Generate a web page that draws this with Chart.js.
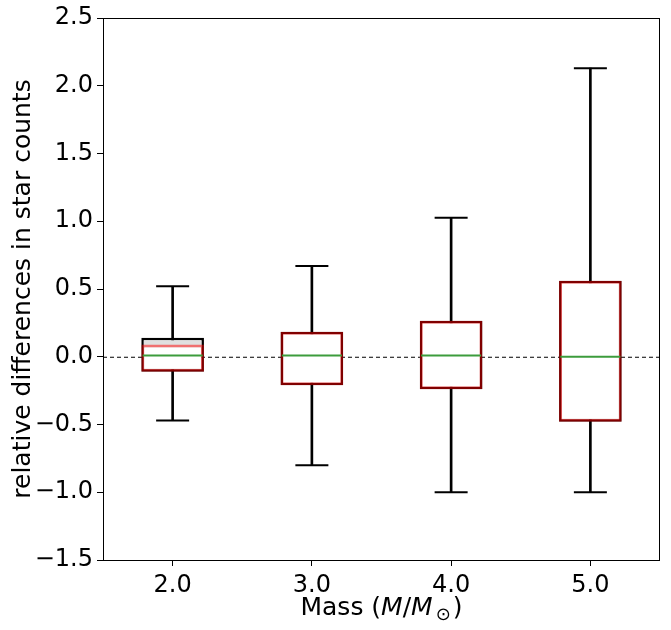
<!DOCTYPE html>
<html>
<head>
<meta charset="utf-8">
<script src="https://cdn.jsdelivr.net/npm/chart.js@4/dist/chart.umd.min.js"></script>
<style>
  body { margin: 0; background: #fff; }
</style>
</head>
<body>
<canvas id="myChart" width="671" height="630"></canvas>
<script>
// values
var masses = ['2.0', '3.0', '4.0', '5.0']
var whiskerLow = [-0.47, -0.80, -1.00, -1.00]
var whiskerHigh = [0.52, 0.67, 1.025, 2.13]
var blackQ1 = [-0.11, -0.21, -0.24, -0.48]
var blackQ3 = [0.14, 0.185, 0.265, 0.56]
var redQ1 = [-0.11, -0.21, -0.24, -0.48]
var redQ3 = [0.09, 0.185, 0.265, 0.56]
var medians = [0.01, 0.01, 0.01, 0.0]
var yTicks = [-1.5, -1.0, -0.5, 0.0, 0.5, 1.0, 1.5, 2.0, 2.5]

const ctx = document.getElementById('myChart')
const FONT = '"DejaVu Sans", sans-serif'

function pairs(a, b) {
  var out = []
  for (var i = 0; i < a.length; i++) out.push([a[i], b[i]])
  return out
}

// frame, dashed zero line and the two axis titles
const extras = {
  id: 'extras',
  beforeDatasetsDraw(chart) {
    const c = chart.ctx, a = chart.chartArea
    const y0 = chart.scales.y.getPixelForValue(0)
    c.save()
    c.strokeStyle = '#000'
    c.lineWidth = 1
    c.setLineDash([4, 3])
    c.beginPath()
    c.moveTo(a.left, y0 + 0.5)
    c.lineTo(a.right, y0 + 0.5)
    c.stroke()
    c.restore()
  },
  afterDraw(chart) {
    const c = chart.ctx, a = chart.chartArea
    c.save()
    c.strokeStyle = '#000'
    c.lineWidth = 1
    c.strokeRect(a.left + 0.5, a.top + 0.5, a.right - a.left - 1, a.bottom - a.top)

    // y title
    c.fillStyle = '#000'
    c.font = '25px ' + FONT
    c.textAlign = 'center'
    c.textBaseline = 'middle'
    c.translate(23, (a.top + a.bottom) / 2)
    c.rotate(-Math.PI / 2)
    c.fillText('relative differences in star counts', 0, 0)
    c.restore()

    // x title: Mass (M/M_sun) with italic M and subscript
    c.save()
    c.fillStyle = '#000'
    c.textBaseline = 'alphabetic'
    c.textAlign = 'left'
    var fs = 25
    var parts = [
      { t: 'Mass (', f: fs + 'px ' + FONT, dy: 0, gap: 0 },
      { t: 'M', f: 'italic ' + fs + 'px ' + FONT, dy: 0, gap: 0 },
      { t: '/', f: fs + 'px ' + FONT, dy: 0, gap: 0 },
      { t: 'M', f: 'italic ' + fs + 'px ' + FONT, dy: 0, gap: 0 },
      { t: '\u2299', f: Math.round(fs * 0.7) + 'px ' + FONT, dy: 5, gap: 3 },
      { t: ')', f: fs + 'px ' + FONT, dy: 0, gap: 2 }
    ]
    var total = 0
    for (var p of parts) {
      c.font = p.f
      p.w = c.measureText(p.t).width
      total += p.w + p.gap
    }
    var x = (a.left + a.right) / 2 - total / 2
    var base = 615
    for (var p of parts) {
      x += p.gap
      c.font = p.f
      c.fillText(p.t, x, base + p.dy)
      x += p.w
    }
    c.restore()
  }
}

new Chart(ctx, {
  type: 'bar',
  data: {
    labels: masses,
    datasets: [
      {
        type: 'line',
        data: whiskerHigh,
        showLine: false,
        pointStyle: 'line',
        pointRadius: 16.5,
        pointHoverRadius: 16.5,
        pointBorderWidth: 2,
        pointBorderColor: '#000',
        order: 1
      },
      {
        type: 'line',
        data: whiskerLow,
        showLine: false,
        pointStyle: 'line',
        pointRadius: 16.5,
        pointHoverRadius: 16.5,
        pointBorderWidth: 2,
        pointBorderColor: '#000',
        order: 1
      },
      {
        type: 'line',
        data: medians,
        showLine: false,
        pointStyle: 'line',
        pointRadius: 30,
        pointHoverRadius: 30,
        pointBorderWidth: 2,
        pointBorderColor: '#3c9c3c',
        order: 2
      },
      {
        data: pairs(redQ1, redQ3),
        backgroundColor: '#ffffff',
        borderColor: 'rgba(255,0,0,0.5)',
        borderWidth: 3,
        borderSkipped: false,
        barPercentage: 0.45,
        categoryPercentage: 1,
        grouped: false,
        order: 3
      },
      {
        data: pairs(blackQ1, blackQ3),
        backgroundColor: '#e0e0e0',
        borderColor: '#000',
        borderWidth: 2.5,
        borderSkipped: false,
        barPercentage: 0.45,
        categoryPercentage: 1,
        grouped: false,
        order: 4
      },
      {
        data: pairs(whiskerLow, whiskerHigh),
        backgroundColor: '#000',
        borderWidth: 0,
        barThickness: 2,
        grouped: false,
        order: 5
      }
    ]
  },
  options: {
    responsive: false,
    animation: false,
    events: [],
    layout: { autoPadding: false, padding: { top: 18, right: 11, left: 0, bottom: 0 } },
    plugins: {
      legend: { display: false },
      tooltip: { enabled: false }
    },
    scales: {
      x: {
        offset: true,
        grid: { offset: false, drawOnChartArea: false, drawTicks: true, tickLength: 6, color: '#000' },
        border: { display: false },
        ticks: { color: '#000', font: { family: FONT, size: 24 }, padding: 5, maxRotation: 0 },
        afterFit: function (scale) {
          scale.height = 70
          scale.paddingLeft = 0
          scale.paddingRight = 0
        }
      },
      y: {
        min: -1.5,
        max: 2.5,
        afterBuildTicks: function (scale) {
          scale.ticks = yTicks.map(function (v) { return { value: v } })
        },
        grid: { drawOnChartArea: false, drawTicks: true, tickLength: 6, color: '#000' },
        border: { display: false },
        ticks: {
          color: '#000',
          font: { family: FONT, size: 24 },
          padding: 4,
          callback: function (v) { return Number(v).toFixed(1).replace('-', '\u2212') }
        },
        afterFit: function (scale) {
          scale.width = 103
          scale.paddingTop = 0
          scale.paddingBottom = 0
        }
      }
    }
  },
  plugins: [extras]
})
</script>
</body>
</html>
